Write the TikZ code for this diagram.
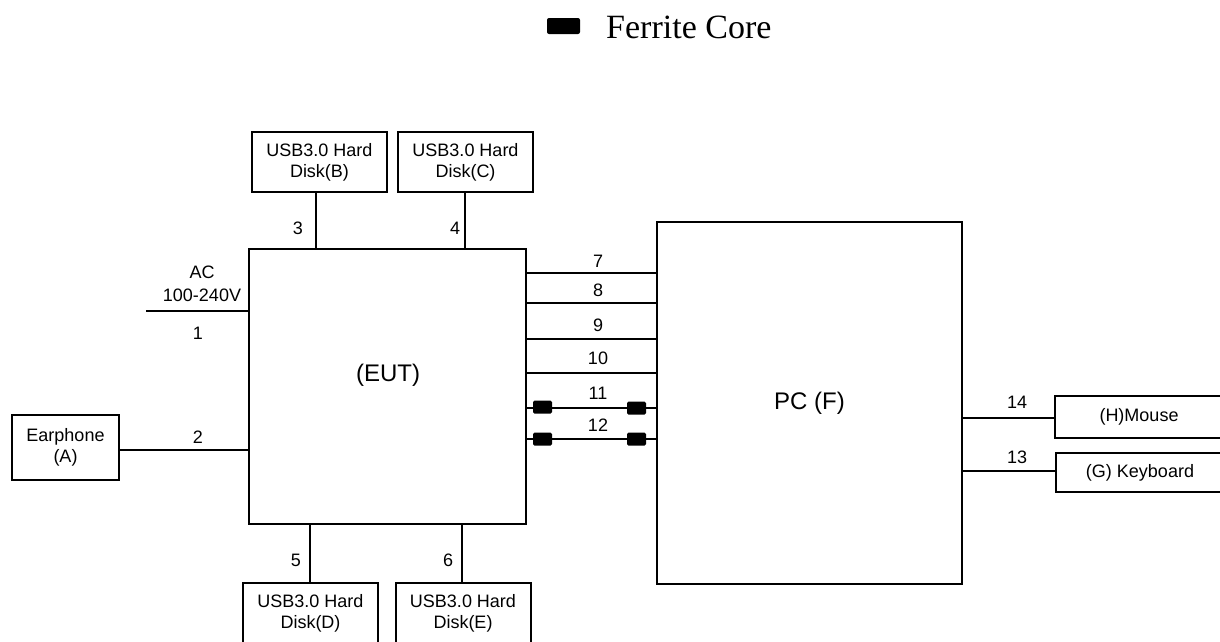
\documentclass[tikz,border=0pt]{standalone}
\usepackage{fontspec}
\setmainfont{Liberation Serif}
\newfontfamily\arialf{Liberation Sans}
\begin{document}
\begin{tikzpicture}[x=1pt,y=-1pt,
  box/.style={draw,line width=2pt,inner sep=0pt,align=center,font=\arialf\fontsize{18}{21}\selectfont},
  lbl/.style={inner sep=0pt,font=\arialf\fontsize{18}{21}\selectfont},
  big/.style={inner sep=0pt,font=\arialf\fontsize{24}{28}\selectfont},
  wire/.style={line width=2pt},
  core/.style={fill=black,rounded corners=1.5pt,minimum width=19pt,minimum height=13pt,inner sep=0pt}]
\useasboundingbox (0,0) rectangle (1220,641);
\clip (0,0) rectangle (1220,641);
% legend
\node[core,minimum width=33pt,minimum height=16pt,rounded corners=2pt] (legcore) at (563.5,26) {};
\node[anchor=west,inner sep=0pt,font=\fontsize{34}{40}\selectfont] (legtext) at (606,27) {Ferrite Core};
% main boxes
\node[box,minimum width=277pt,minimum height=275pt] (eut) at (387.5,386.5) {};
\node[big] (eutl) at (388,375) {(EUT)};
\node[box,minimum width=305pt,minimum height=362pt,font=\arialf\fontsize{24}{28}\selectfont] (pc) at (809.5,403) {PC (F)};
% peripherals
\node[box,minimum width=135pt,minimum height=60pt] (b) at (319.5,162) {USB3.0 Hard\\Disk(B)};
\node[box,minimum width=135pt,minimum height=60pt] (c) at (465.5,162) {USB3.0 Hard\\Disk(C)};
\node[box,minimum width=135pt,minimum height=60pt] (d) at (310.5,613) {USB3.0 Hard\\Disk(D)};
\node[box,minimum width=135pt,minimum height=60pt] (e) at (463,613) {USB3.0 Hard\\Disk(E)};
\node[box,minimum width=107pt,minimum height=65pt] (a) at (65.5,447.5) {Earphone\\(A)};
\node[box,minimum width=168pt,minimum height=42pt] (h) at (1139,417) {(H)Mouse};
\node[box,minimum width=168pt,minimum height=39pt] (g) at (1140,472.5) {(G) Keyboard};
% helper coordinates
\coordinate (acend) at (146,311);
\coordinate (x3) at (316,0);
\coordinate (x4) at (465,0);
\coordinate (x5) at (310,0);
\coordinate (x6) at (462,0);
\coordinate (y7) at (0,273);
\coordinate (y8) at (0,303);
\coordinate (y9) at (0,339);
\coordinate (y10) at (0,373);
\coordinate (y11) at (0,408);
\coordinate (y12) at (0,439);
\coordinate (y14) at (0,418);
\coordinate (y13) at (0,471);
\coordinate (y2) at (0,450);
% connectors
\draw[wire] (acend) -- (eut.west |- acend);
\draw[wire] (a.east |- y2) -- (eut.west |- y2);
\draw[wire] (b.south -| x3) -- (eut.north -| x3);
\draw[wire] (c.south -| x4) -- (eut.north -| x4);
\draw[wire] (eut.south -| x5) -- (d.north -| x5);
\draw[wire] (eut.south -| x6) -- (e.north -| x6);
\draw[wire] (eut.east |- y7) -- (pc.west |- y7);
\draw[wire] (eut.east |- y8) -- (pc.west |- y8);
\draw[wire] (eut.east |- y9) -- (pc.west |- y9);
\draw[wire] (eut.east |- y10) -- ([xshift=2pt]pc.west |- y10);
\draw[wire] (eut.east |- y11) -- (pc.west |- y11);
\draw[wire] (eut.east |- y12) -- (pc.west |- y12);
\draw[wire] (pc.east |- y14) -- (h.west |- y14);
\draw[wire] (pc.east |- y13) -- (g.west |- y13);
% ferrite cores
\node[core] (f11a) at (542.5,407) {};
\node[core] (f11b) at (636.5,408) {};
\node[core] (f12a) at (542.5,439) {};
\node[core] (f12b) at (636.5,439) {};
% labels
\node[lbl] (lac) at (202,272) {AC};
\node[lbl] (lv) at (202,295) {100-240V};
\node[lbl] (l1) at (198,333) {1};
\node[lbl] (l2) at (198,437) {2};
\node[lbl] (l3) at (298,228) {3};
\node[lbl] (l4) at (455,228) {4};
\node[lbl] (l5) at (296,560) {5};
\node[lbl] (l6) at (448,560) {6};
\node[lbl] (l7) at (598,261) {7};
\node[lbl] (l8) at (598,290) {8};
\node[lbl] (l9) at (598,325) {9};
\node[lbl] (l10) at (598,358) {10};
\node[lbl] (l11) at (598,393) {11};
\node[lbl] (l12) at (598,425) {12};
\node[lbl] (l14) at (1017,402) {14};
\node[lbl] (l13) at (1017,457) {13};
\end{tikzpicture}
\end{document}
